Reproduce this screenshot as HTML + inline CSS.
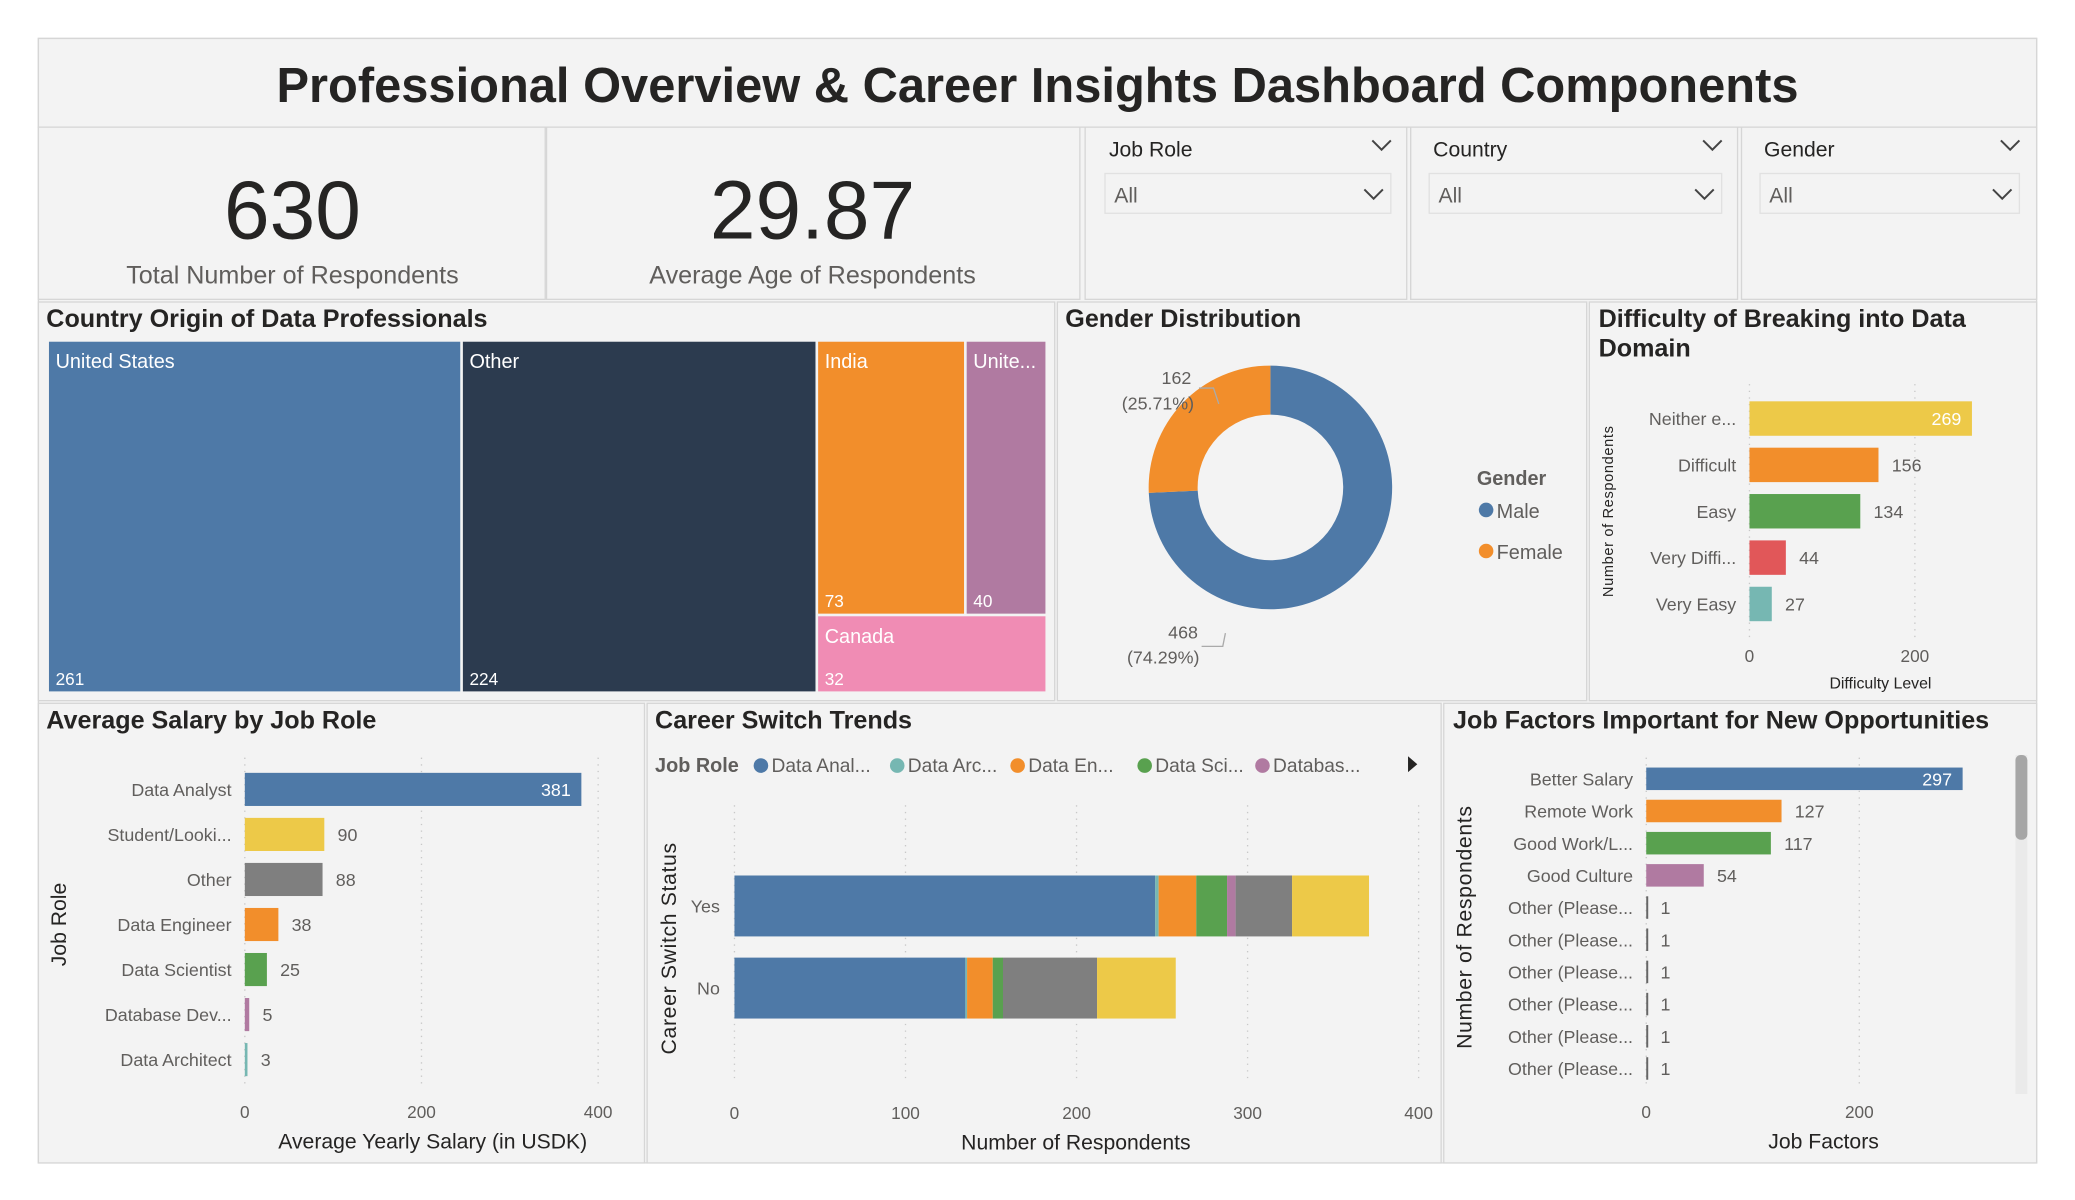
<!DOCTYPE html>
<html><head><meta charset="utf-8">
<style>
html,body{margin:0;padding:0;background:#fff;}
svg{display:block;font-family:"Liberation Sans",sans-serif;}
.t{font-family:"Liberation Sans Narrow","Liberation Sans",sans-serif;font-weight:bold;fill:#252423;font-size:19px;}
.lab{font-size:13.5px;fill:#605E5C;}
.tick{font-size:13px;fill:#605E5C;}
.ax{font-size:16px;fill:#252423;}
</style></head>
<body>
<svg id="dash" width="2075" height="1200" viewBox="0 0 1568 906" preserveAspectRatio="none" xmlns="http://www.w3.org/2000/svg">
<rect x="0" y="0" width="1568" height="906" fill="#fff"/>
<rect x="29" y="29" width="1510" height="849" fill="#F3F3F3" stroke="#D6D6D6"/>
<g>
<rect x="29" y="29" width="1510" height="67" fill="#F3F3F3" stroke="#D6D6D6"/>
<text x="784" y="77" text-anchor="middle" font-size="36.9" font-weight="bold" fill="#252423">Professional Overview &amp; Career Insights Dashboard Components</text>
</g>
<g>
<rect x="29" y="96" width="383" height="130" fill="#F3F3F3" stroke="#D6D6D6"/>
<text x="221" y="180" text-anchor="middle" font-size="62" fill="#252423">630</text>
<text x="221" y="214" text-anchor="middle" font-size="19" fill="#605E5C">Total Number of Respondents</text>
</g>
<g>
<rect x="413" y="96" width="403" height="130" fill="#F3F3F3" stroke="#D6D6D6"/>
<text x="614" y="180" text-anchor="middle" font-size="62" fill="#252423">29.87</text>
<text x="614" y="214" text-anchor="middle" font-size="19" fill="#605E5C">Average Age of Respondents</text>
</g>
<g id="slicers"></g>
<rect x="29" y="228" width="768" height="301" fill="#F3F3F3" stroke="#D6D6D6"/>
<rect x="799" y="228" width="400" height="301" fill="#F3F3F3" stroke="#D6D6D6"/>
<rect x="1201" y="228" width="338" height="301" fill="#F3F3F3" stroke="#D6D6D6"/>
<rect x="29" y="531" width="458" height="347" fill="#F3F3F3" stroke="#D6D6D6"/>
<rect x="489" y="531" width="600" height="347" fill="#F3F3F3" stroke="#D6D6D6"/>
<rect x="1091" y="531" width="448" height="347" fill="#F3F3F3" stroke="#D6D6D6"/>
<text class="t" x="35" y="247">Country Origin of Data Professionals</text>
<text class="t" x="805" y="247">Gender Distribution</text>
<text class="t" x="1208" y="247">Difficulty of Breaking into Data</text>
<text class="t" x="1208" y="269">Domain</text>
<text class="t" x="35" y="550">Average Salary by Job Role</text>
<text class="t" x="495" y="550">Career Switch Trends</text>
<text class="t" x="1098" y="550">Job Factors Important for New Opportunities</text>
<g id="treemap"></g><g id="donut"></g><g id="diff"></g><g id="salary"></g><g id="career"></g><g id="factors"></g>
</svg>
<script>
// ---- data ----
const countryNames=["United States","Other","India","Unite...","Canada"];
const countryValues=[261,224,73,40,32];
const genderNames=["Male","Female"];
const genderValues=[468,162];
const diffCats=["Neither e...","Difficult","Easy","Very Diffi...","Very Easy"];
const diffValues=[269,156,134,44,27];
const diffTicks=[0,200];
const salaryCats=["Data Analyst","Student/Looki...","Other","Data Engineer","Data Scientist","Database Dev...","Data Architect"];
const salaryValues=[381,90,88,38,25,5,3];
const salaryTicks=[0,200,400];
const careerCats=["Yes","No"];
const careerRoles=["Data Analyst","Data Architect","Data Engineer","Data Scientist","Database Developer","Other","Student/Looking"];
const careerLegend=["Data Anal...","Data Arc...","Data En...","Data Sci...","Databas..."];
const careerYes=[246,2,22,18,5,33,45];
const careerNo=[135,1,15,6,0,55,46];
const careerTicks=[0,100,200,300,400];
const factorCats=["Better Salary","Remote Work","Good Work/L...","Good Culture","Other (Please...","Other (Please...","Other (Please...","Other (Please...","Other (Please...","Other (Please..."];
const factorValues=[297,127,117,54,1,1,1,1,1,1];
const factorTicks=[0,200];

const NS="http://www.w3.org/2000/svg";
function mk(tag,attrs,parent,txt){const e=document.createElementNS(NS,tag);for(const k in attrs)e.setAttribute(k,attrs[k]);if(txt!==undefined)e.textContent=txt;parent.appendChild(e);return e;}
const C={blue:"#4E79A7",teal:"#76B7B2",orange:"#F28E2B",green:"#59A14F",purple:"#B07AA1",gray:"#7F7F7F",yellow:"#EDC948",red:"#E15759",navy:"#2C3B4F",pink:"#F08CB4"};

const sl=document.getElementById('slicers');
[["Job Role",820,1063,835,1051],["Country",1066,1313,1080,1301],["Gender",1316,1539,1330,1526]].forEach(s=>{
 const g=mk('g',{},sl);
 
 
 mk('rect',{x:s[1],y:96,width:s[2]-s[1],height:130,fill:"#F3F3F3",stroke:"#D6D6D6"},g);
 mk('text',{x:s[3]+3,y:118,'font-size':16,fill:"#252423"},g,s[0]);
 mk('path',{d:`M${s[4]-14} 106 l7 7 l7 -7`,fill:"none",stroke:"#444",'stroke-width':1.5},g);
 const b=mk('rect',{x:s[3],y:131,width:s[4]-s[3],height:30,fill:"#F3F3F3",stroke:"#E1E1E1"},g);
 
 
 mk('text',{x:s[3]+7,y:153,'font-size':16,fill:"#605E5C"},g,"All");
 mk('path',{d:`M${s[4]-20} 143 l7 7 l7 -7`,fill:"none",stroke:"#444",'stroke-width':1.5},g);
});

(function(){
 const g=document.getElementById('treemap');
 const X0=36,Y0=257,W=755,H=266,tot=countryValues.reduce((a,b)=>a+b,0);
 const cols=[C.blue,C.navy,C.orange,C.purple,C.pink];
 const rects=[];let x=X0;
 for(let i=0;i<2;i++){const w=W*countryValues[i]/tot;rects.push([x,Y0,w,H]);x+=w;}
 const restW=X0+W-x,rest=countryValues[2]+countryValues[3]+countryValues[4];
 const topH=H*(countryValues[2]+countryValues[3])/rest;
 let xx=x;
 for(let i=2;i<4;i++){const w=restW*countryValues[i]/(countryValues[2]+countryValues[3]);rects.push([xx,Y0,w,topH]);xx+=w;}
 rects.push([x,Y0+topH,restW,H-topH]);
 rects.forEach((r,i)=>{
  const t=mk('rect',{x:r[0]+1,y:r[1]+1,width:r[2]-2,height:r[3]-2,fill:cols[i]},g);
  
  
  mk('text',{x:r[0]+6,y:r[1]+21,'font-size':15,fill:"#fff"},g,countryNames[i]);
  mk('text',{x:r[0]+6,y:r[1]+r[3]-6,'font-size':13,fill:"#fff"},g,countryValues[i]);
 });
})();

(function(){
 const g=document.getElementById('donut');
 const cx=960,cy=368,R=92,r=55,tot=genderValues[0]+genderValues[1];
 const cols=[C.blue,C.orange];let a=0;
 genderValues.forEach((v,i)=>{
  const a1=a+v/tot*2*Math.PI;
  const p=(ang,rad)=>[cx+rad*Math.sin(ang),cy-rad*Math.cos(ang)];
  const [x1,y1]=p(a,R),[x2,y2]=p(a1,R),[x3,y3]=p(a1,r),[x4,y4]=p(a,r);
  const lg=(a1-a)>Math.PI?1:0;
  const s=mk('path',{d:`M${x1} ${y1} A${R} ${R} 0 ${lg} 1 ${x2} ${y2} L${x3} ${y3} A${r} ${r} 0 ${lg} 0 ${x4} ${y4}Z`,fill:cols[i]},g);
  
  
  a=a1;
 });
 const pct=v=>(v/tot*100).toFixed(2)+"%";
 mk('text',{x:889,y:290,'text-anchor':'middle',class:'lab'},g,genderValues[1]);
 mk('text',{x:875,y:309,'text-anchor':'middle',class:'lab'},g,"("+pct(genderValues[1])+")");
 mk('path',{d:"M906 293 h11 l4 12",fill:"none",stroke:"#aaa"},g);
 mk('text',{x:894,y:482,'text-anchor':'middle',class:'lab'},g,genderValues[0]);
 mk('text',{x:879,y:501,'text-anchor':'middle',class:'lab'},g,"("+pct(genderValues[0])+")");
 mk('path',{d:"M908 488 h16 l2 -10",fill:"none",stroke:"#aaa"},g);
 mk('text',{x:1116,y:366,'font-size':15,'font-weight':'bold',fill:"#605E5C"},g,"Gender");
 genderNames.forEach((n,i)=>{
  const e=mk('g',{},g);
  
  
  mk('circle',{cx:1123,cy:385+i*31,r:5.5,fill:cols[i]},e);
  mk('text',{x:1131,y:391+i*31,'font-size':15,fill:"#605E5C"},e,n);
 });
})();

function hbar(g,o){
 const sx=v=>o.x0+v*o.k;
 o.ticks.forEach(t=>{
  mk('line',{x1:sx(t),x2:sx(t),y1:o.gy0,y2:o.gy1,stroke:"#C8C8C8",'stroke-dasharray':"1 4"},g);
  mk('text',{x:sx(t),y:o.ty,'text-anchor':'middle',class:'tick'},g,t);
 });
 o.vals.forEach((v,i)=>{
  const y=o.y0+i*o.step;
  const col=o.colors[i%o.colors.length];
  const b=mk('rect',{x:o.x0,y:y-o.h/2,width:Math.max(v*o.k,1.5),height:o.h,fill:col},g);
  
  
  mk('text',{x:o.x0-10,y:y+5,'text-anchor':'end',class:'lab'},g,o.cats[i]);
  if(i===0&&o.inside) mk('text',{x:sx(v)-8,y:y+5,'text-anchor':'end',class:'lab',style:"fill:#fff"},g,v);
  else mk('text',{x:sx(v)+10,y:y+5,class:'lab'},g,v);
 });
}
(function(){
 const g=document.getElementById('diff');
 hbar(g,{name:'difficulty',x0:1322,k:0.625,ticks:diffTicks,gy0:290,gy1:482,ty:500,vals:diffValues,cats:diffCats,y0:316,step:35,h:26,colors:[C.yellow,C.orange,C.green,C.red,C.teal],inside:true});
 mk('text',{x:0,y:0,transform:"translate(1219,386) rotate(-90)",'text-anchor':'middle','font-size':11,fill:"#252423",'letter-spacing':'0.5'},g,"Number of Respondents");
 mk('text',{x:1421,y:520,'text-anchor':'middle','font-size':12,fill:"#252423"},g,"Difficulty Level");
})();
(function(){
 const g=document.getElementById('salary');
 hbar(g,{name:'salary',x0:185,k:0.6675,ticks:salaryTicks,gy0:572,gy1:822,ty:844,vals:salaryValues,cats:salaryCats,y0:596,step:34,h:25,colors:[C.blue,C.yellow,C.gray,C.orange,C.green,C.purple,C.teal],inside:true});
 mk('text',{x:0,y:0,transform:"translate(50,698) rotate(-90)",'text-anchor':'middle',class:'ax'},g,"Job Role");
 mk('text',{x:327,y:867,'text-anchor':'middle',class:'ax'},g,"Average Yearly Salary (in USDK)");
})();
(function(){
 const g=document.getElementById('career');
 const x0=555,k=1.2925,sx=v=>x0+v*k;
 const cols=[C.blue,C.teal,C.orange,C.green,C.purple,C.gray,C.yellow];
 careerTicks.forEach(t=>{
  mk('line',{x1:sx(t),x2:sx(t),y1:608,y2:814,stroke:"#C8C8C8",'stroke-dasharray':"1 4"},g);
  mk('text',{x:sx(t),y:845,'text-anchor':'middle',class:'tick'},g,t);
 });
 [careerYes,careerNo].forEach((arr,ci)=>{
  let acc=0;const y=ci?723:661;
  arr.forEach((v,j)=>{
   if(v>0){const b=mk('rect',{x:sx(acc),y:y,width:v*k,height:46,fill:cols[j]},g);
   
   }
   acc+=v;
  });
  mk('text',{x:544,y:y+28,'text-anchor':'end',class:'lab'},g,careerCats[ci]);
 });
 mk('text',{x:495,y:583,'font-size':15,'font-weight':'bold',fill:"#605E5C"},g,"Job Role");
 let lx=569;
 careerLegend.forEach((n,i)=>{
  const e=mk('g',{},g);
  
  
  mk('circle',{cx:lx+6,cy:578,r:5.5,fill:cols[i]},e);
  mk('text',{x:lx+14,y:583,'font-size':14.5,fill:"#605E5C"},e,n);
  lx+=14+[79,67,72,65,0][i]+10;
 });
 mk('path',{d:"M1064 571 l7 6 l-7 6z",fill:"#252423"},g);
 mk('text',{x:0,y:0,transform:"translate(511,716) rotate(-90)",'text-anchor':'middle',class:'ax','letter-spacing':'0.5'},g,"Career Switch Status");
 mk('text',{x:813,y:868,'text-anchor':'middle',class:'ax'},g,"Number of Respondents");
})();
(function(){
 const g=document.getElementById('factors');
 hbar(g,{name:'factors',x0:1244,k:0.805,ticks:factorTicks,gy0:572,gy1:822,ty:844,vals:factorValues,cats:factorCats,y0:588,step:24.3,h:17,colors:[C.blue,C.orange,C.green,C.purple,"#666","#666","#666","#666","#666","#666"],inside:true});
 mk('rect',{x:1523,y:570,width:9,height:256,fill:"#EAEAEA"},g);
 const th=mk('rect',{x:1523,y:570,width:9,height:64,rx:4,fill:"#A6A6A6"},g);
 
 
 mk('text',{x:0,y:0,transform:"translate(1112,700) rotate(-90)",'text-anchor':'middle',class:'ax','letter-spacing':'0.5'},g,"Number of Respondents");
 mk('text',{x:1378,y:867,'text-anchor':'middle',class:'ax'},g,"Job Factors");
})();
</script>
</body></html>
